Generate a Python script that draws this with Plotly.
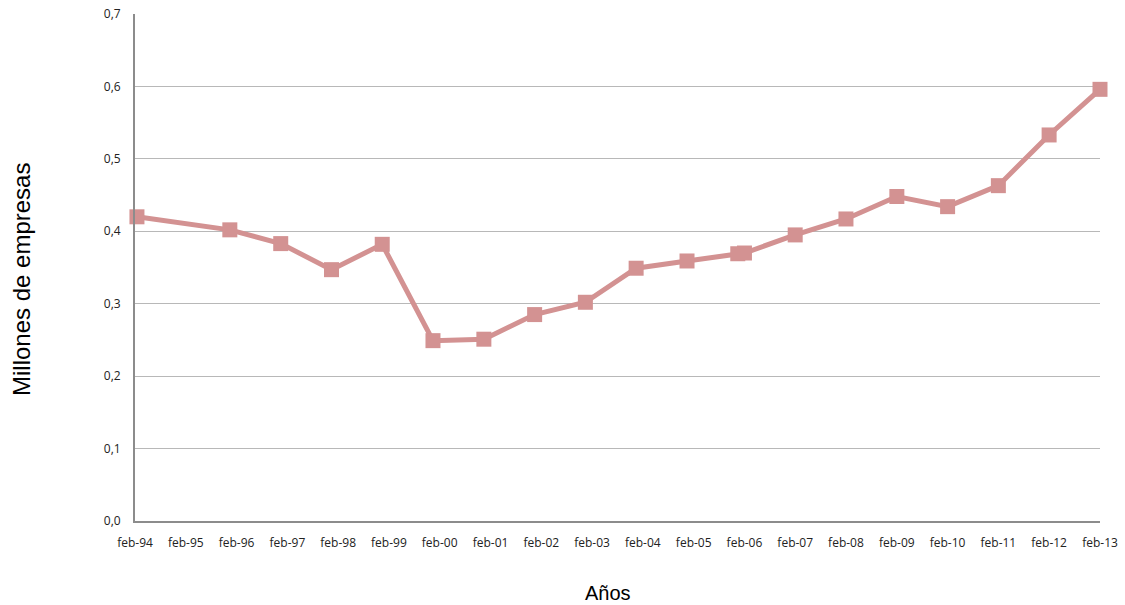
import plotly.graph_objects as go

# Observation dates and number of companies (millions)
fechas = [
    "1994-02-15", "1995-12-15", "1996-12-15", "1997-12-15", "1998-12-15",
    "1999-12-15", "2000-12-15", "2001-12-15", "2002-12-15", "2003-12-15",
    "2004-12-15", "2005-12-15", "2006-02-01", "2007-02-01", "2008-02-01",
    "2009-02-01", "2010-02-01", "2011-02-01", "2012-02-01", "2013-02-01",
]
empresas = [
    0.420, 0.402, 0.383, 0.347, 0.382,
    0.249, 0.251, 0.285, 0.302, 0.349,
    0.359, 0.369, 0.370, 0.395, 0.417,
    0.448, 0.434, 0.463, 0.533, 0.596,
]

# Yearly tick marks on the date axis
tick_fechas = [f"{y}-02-01" for y in range(1994, 2014)]
tick_textos = [f"feb-{str(y)[2:]}" for y in range(1994, 2014)]

y_ticks = [0.0, 0.1, 0.2, 0.3, 0.4, 0.5, 0.6, 0.7]

fig = go.Figure()
fig.add_trace(go.Scatter(
    x=fechas,
    y=empresas,
    mode="lines+markers",
    line=dict(color="#d39292", width=5),
    marker=dict(symbol="square", size=15, color="#d39292"),
    cliponaxis=False,
    showlegend=False,
))

tick_font = dict(family="Open Sans, Lato, sans-serif", size=12, color="#222222")

fig.update_layout(
    width=1125,
    height=605,
    margin=dict(l=135, r=25, t=14, b=84, autoexpand=False),
    paper_bgcolor="white",
    plot_bgcolor="white",
    separators=",.",
    xaxis=dict(
        type="date",
        range=["1994-02-01", "2013-02-01"],
        tickvals=tick_fechas,
        ticktext=tick_textos,
        tickfont=tick_font,
        showgrid=False,
        showline=True,
        linecolor="#8c8c8c",
        linewidth=2,
        ticks="",
        ticklabelstandoff=10,
        zeroline=False,
        automargin=False,
    ),
    yaxis=dict(
        range=[0, 0.7],
        tickvals=y_ticks,
        tickformat=".1f",
        tickfont=tick_font,
        showgrid=True,
        gridcolor="#b8b8b8",
        gridwidth=1,
        showline=True,
        linecolor="#8c8c8c",
        linewidth=2,
        ticks="",
        ticklabelstandoff=10,
        zeroline=False,
        automargin=False,
    ),
    annotations=[
        dict(
            text="Millones de empresas",
            xref="paper", yref="paper",
            x=(21 - 135) / 965, y=(521 - 280) / 507,
            xanchor="center", yanchor="middle",
            textangle=-90,
            showarrow=False,
            font=dict(family="Liberation Sans, Arial, sans-serif", size=24, color="#000000"),
        ),
        dict(
            text="Años",
            xref="paper", yref="paper",
            x=(608 - 135) / 965, y=(521 - 593) / 507,
            xanchor="center", yanchor="middle",
            showarrow=False,
            font=dict(family="Liberation Sans, Arial, sans-serif", size=20, color="#000000"),
        ),
    ],
)

fig.write_html("out.html")
